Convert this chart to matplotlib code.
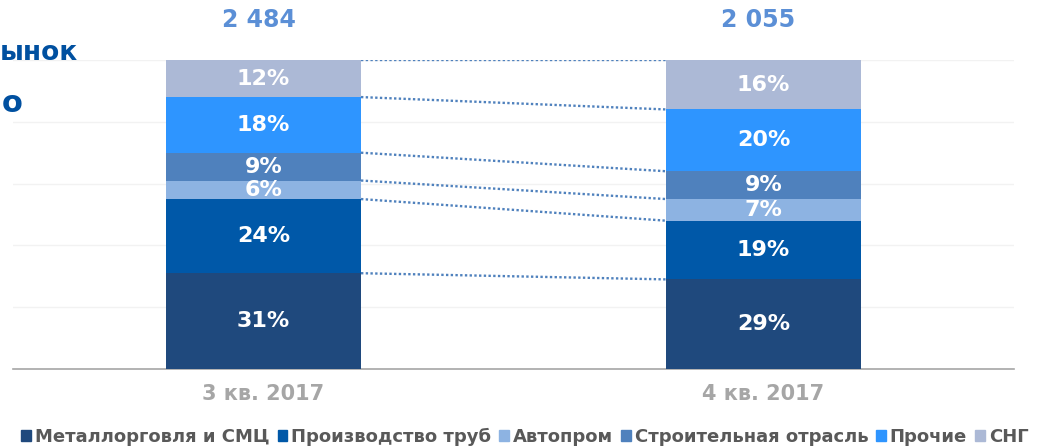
import numpy as np
import matplotlib
matplotlib.use("Agg")
import matplotlib.pyplot as plt
from matplotlib.patches import Patch

plt.rcParams['font.family'] = ['DejaVu Sans']

periods = ['3 кв. 2017', '4 кв. 2017']
totals = ['2 484', '2 055']
segments = ['Металлорговля и СМЦ', 'Производство труб', 'Автопром',
            'Строительная отрасль', 'Прочие', 'СНГ']
shares = {
    'Металлорговля и СМЦ': [31, 29],
    'Производство труб': [24, 19],
    'Автопром': [6, 7],
    'Строительная отрасль': [9, 9],
    'Прочие': [18, 20],
    'СНГ': [12, 16],
}
colors = ['#1F497D', '#0058A8', '#8DB3E2', '#4F81BD', '#2E95FF', '#ACB9D6']

W, H = 1059, 448
fig = plt.figure(figsize=(W / 100, H / 100), dpi=100)
ax = fig.add_axes([13 / W, (H - 369) / H, 1001 / W, 309 / H])

x = np.arange(len(periods))
bw = 0.39
bottom = np.zeros(len(periods))
tops = [bottom.copy()]
for seg, col in zip(segments, colors):
    vals = np.array(shares[seg], dtype=float)
    ax.bar(x, vals, bw, bottom=bottom, color=col, zorder=3)
    for xi, v, b in zip(x, vals, bottom):
        ax.text(xi, b + v / 2, f'{int(v)}%', ha='center', va='center',
                color='white', fontsize=16, fontweight='bold', zorder=4)
    bottom = bottom + vals
    tops.append(bottom.copy())

# dotted connectors between the bars
for t in tops[1:]:
    ax.plot([x[0] + bw / 2, x[1] - bw / 2], [t[0], t[1]], ls=(0, (1, 1)),
            color='#4F81BD', lw=1.7, zorder=2)

for xi, tot in zip(x, totals):
    ax.text(xi - 0.01, 113, tot, ha='center', va='center', color='#5B8FD6',
            fontsize=17, fontweight='bold')

ax.set_xlim(-0.501, 1.501)
ax.set_ylim(0, 100)
ax.set_yticks(np.arange(0, 101, 20))
ax.yaxis.grid(True, color='#F2F2F2', lw=1, zorder=0)
ax.tick_params(axis='y', left=False, labelleft=False)
ax.tick_params(axis='x', length=0, pad=11)
ax.set_xticks(x)
ax.set_xticklabels(periods, color='#A6A6A6', fontsize=15, fontweight='bold')
for s in ['top', 'left', 'right']:
    ax.spines[s].set_visible(False)
ax.spines['bottom'].set_color('#A6A6A6')
ax.spines['bottom'].set_linewidth(1.2)

fig.text(78 / W, 1 - 53 / H, 'ынок', ha='right', va='center',
         color='#0050A0', fontsize=19, fontweight='bold')
fig.text(23 / W, 1 - 103 / H, 'о', ha='right', va='center',
         color='#0050A0', fontsize=22, fontweight='bold')

handles = [Patch(color=c) for c in colors]
fig.legend(handles, segments, loc='center left', bbox_to_anchor=(14 / W, 1 - 437 / H),
           ncol=6, frameon=False, handlelength=0.55, handleheight=0.6,
           handletextpad=0.2, columnspacing=0.45, borderaxespad=0,
           prop={'size': 13, 'weight': 'bold'}, labelcolor='#595959')

fig.savefig('out.png', dpi=100)
